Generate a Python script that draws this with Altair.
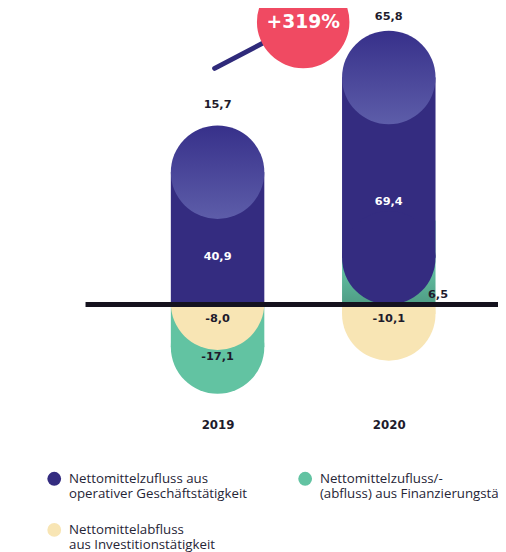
import math
import altair as alt
import pandas as pd

# ---------------- data ----------------
years = [2019, 2020]
operating = [40.9, 69.4]     # Nettomittelzufluss aus operativer Geschäftstätigkeit
investing = [-8.0, -10.1]    # Nettomittelabfluss aus Investitionstätigkeit
financing = [-17.1, 6.5]     # Nettomittelzufluss/-(abfluss) aus Finanzierungstätigkeit
totals = [15.7, 65.8]

S_OP = "Nettomittelzufluss aus|operativer Geschäftstätigkeit"
S_FIN = "Nettomittelzufluss/-|(abfluss) aus Finanzierungstätigkeit"
S_INV = "Nettomittelabfluss|aus Investitionstätigkeit"
# legend fills column by column: column 1 = operating, investing; column 2 = financing
SERIES = [S_OP, S_INV, S_FIN]
COLORS = ["#342c80", "#f8e5b4", "#62c3a2"]


def fmt(v):
    return f"{v:.1f}".replace(".", ",")


rows = []
for i, yr in enumerate(years):
    fin_pos = max(financing[i], 0.0)
    rows.append({"year": yr, "series": S_OP, "start": 0.0, "end": operating[i] + fin_pos,
                 "value": operating[i], "stacked": int(fin_pos > 0), "anchor": 0.0})
    rows.append({"year": yr, "series": S_INV, "start": 0.0, "end": investing[i],
                 "value": investing[i], "stacked": 0, "anchor": 0.0})
    rows.append({"year": yr, "series": S_FIN, "start": 0.0, "end": financing[i],
                 "value": financing[i], "stacked": 0,
                 "anchor": min(investing[i], 0.0) if financing[i] < 0 else 0.0})
pills = pd.DataFrame(rows)
pills["label"] = pills["value"].map(fmt)
pills["mid"] = pills["value"] / 2

tops = [operating[i] + max(financing[i], 0.0) for i in range(len(years))]
tot_df = pd.DataFrame({"year": years, "top": tops, "zero": [0.0, 0.0],
                       "label": [fmt(t) for t in totals]})

pct = round((totals[1] / totals[0] - 1) * 100)
ann = pd.DataFrame({"x1": [years[0]], "y1": [tops[0]],
                    "x2": [(years[0] + years[1]) / 2], "y2": [tops[1]],
                    "label": [f"+{pct}%"]})

# ---------------- styles ----------------
W = 95
CAP = 47.5
CSIZE = W * W          # Vega symbol size = area of the bounding square
FONT = "DejaVu Sans"
DARK = "#1e1b2c"

xscale = alt.Scale(domain=[2019, 2020], range=[208, 392], nice=False, zero=False)
xaxis = alt.Axis(values=years, format="d", title=None, ticks=False, domain=False, grid=False,
                 labelFont=FONT, labelFontSize=12, labelFontWeight="bold", labelColor=DARK,
                 labelPadding=9)
yscale = alt.Scale(type="symlog", constant=45, domain=[-21.05, 84.2], nice=False, zero=False)

legend = alt.Legend(title=None, orient="none", legendX=40, legendY=467, columns=2,
                    symbolType="circle", symbolSize=196, symbolStrokeWidth=0, symbolOpacity=1,
                    labelFont="Open Sans", labelFontSize=13.5, labelColor="#262536", labelLimit=400,
                    labelExpr="split(datum.label, '|')", labelOffset=8,
                    columnPadding=51, rowPadding=23, padding=0)
color = alt.Color("series:N", scale=alt.Scale(domain=SERIES, range=COLORS), legend=legend)

X = alt.X("year:Q", scale=xscale, axis=xaxis)

purple_grad = alt.Gradient(gradient="linear", x1=0, y1=0, x2=0, y2=1,
                           stops=[alt.GradientStop(color="#37308a", offset=0),
                                  alt.GradientStop(color="#5d5da9", offset=1)])
green_grad = alt.Gradient(gradient="linear", x1=0, y1=0, x2=0, y2=1,
                          stops=[alt.GradientStop(color="#66c9a8", offset=0.45),
                                 alt.GradientStop(color="#4f9c85", offset=1)])

fin_neg = pills[(pills.series == S_FIN) & (pills.end < 0)]
fin_posd = pills[(pills.series == S_FIN) & (pills.end > 0)]
inv = pills[pills.series == S_INV]
op_all = pills[pills.series == S_OP]
op_flat = op_all[op_all.stacked == 0]
op_stk = op_all[op_all.stacked == 1]


def Ys(field):
    return alt.Y(f"{field}:Q", scale=yscale, axis=None)


def rect(df, **kw):
    enc = dict(x=X, y=Ys("start"), y2=alt.Y2("end"))
    if "fill" not in kw:
        enc["color"] = color
    return alt.Chart(df).mark_bar(width=W, strokeWidth=0, **kw).encode(**enc)


def cap(df, field, off, **kw):
    return alt.Chart(df).mark_circle(size=CSIZE, opacity=1, strokeWidth=0, yOffset=off, **kw).encode(
        x=X, y=Ys(field), color=color)


layers = [
    rect(fin_neg, y2Offset=-CAP),
    cap(fin_neg, "end", -CAP),
    rect(inv, y2Offset=-CAP),
    cap(inv, "end", -CAP),
    rect(fin_posd, y2Offset=-CAP, fill=green_grad),
    rect(op_flat, y2Offset=CAP),
    rect(op_stk, yOffset=-CAP, y2Offset=CAP),
    cap(op_stk, "start", -CAP),
    alt.Chart(op_all).mark_circle(size=CSIZE, fill=purple_grad, opacity=1,
                                  strokeWidth=0, yOffset=CAP).encode(x=X, y=Ys("end")),
]

# zero line
layers.append(alt.Chart(tot_df).mark_rule(color="#15121e", strokeWidth=5).encode(
    y=Ys("zero"), x=alt.value(79), x2=alt.value(498)))

# connector + percentage bubble
layers.append(alt.Chart(ann).mark_rule(color="#2f2a7a", strokeWidth=5, strokeCap="round",
                                       xOffset=-3, yOffset=-58, y2Offset=-9).encode(
    x=alt.X("x1:Q", scale=xscale, axis=xaxis), y=Ys("y1"), x2=alt.X2("x2"), y2=alt.Y2("y2")))
layers.append(alt.Chart(ann).mark_circle(size=94 * 94, color="#f04a62", opacity=1,
                                         yOffset=-9).encode(
    x=alt.X("x2:Q", scale=xscale, axis=xaxis), y=Ys("y2")))
layers.append(alt.Chart(ann).mark_text(font=FONT, fontSize=19, fontWeight="bold", color="white",
                                       baseline="middle", yOffset=-9).encode(
    x=alt.X("x2:Q", scale=xscale, axis=xaxis), y=Ys("y2"), text="label:N"))


def text(df, yfield, color_=DARK, **kw):
    return alt.Chart(df).mark_text(font=FONT, fontSize=11.5, fontWeight="bold", color=color_,
                                   baseline="middle", **kw).encode(x=X, y=Ys(yfield), text="label:N")


layers += [
    text(tot_df[tot_df.year == years[0]], "top", dy=-21),
    text(tot_df[tot_df.year == years[1]], "top", dy=-14),
    text(op_all, "mid", color_="white", dy=57),
    text(inv, "anchor", dy=15),
    text(fin_neg, "anchor", dy=7),
    text(fin_posd, "anchor", dy=-10, dx=50),
]

chart = alt.layer(*layers).properties(
    width=498, height=405, autosize="none",
    padding={"left": 0, "top": 0, "right": 0, "bottom": 139},
).configure_view(stroke=None)

chart.save("out.html", embed_options={"renderer": "svg", "actions": False})
